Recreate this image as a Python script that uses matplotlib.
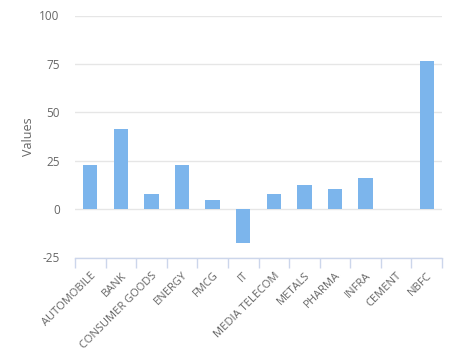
import numpy as np
import matplotlib
matplotlib.use('Agg')
import matplotlib.pyplot as plt
from matplotlib.ticker import FixedLocator

categories = ["AUTOMOBILE", "BANK", "CONSUMER GOODS", "ENERGY", "FMCG", "IT",
              "MEDIA TELECOM", "METALS", "PHARMA", "INFRA", "CEMENT", "NBFC"]
values = [23, 41.6, 7.9, 23, 4.8, -17.3, 8, 12.6, 10.5, 16.2, 0, 76.3]
y_ticks = [-25, 0, 25, 50, 75, 100]

plt.rcParams['font.family'] = ['Open Sans', 'DejaVu Sans']

fig = plt.figure(figsize=(4.61, 3.51), dpi=100)
ax = fig.add_axes([75 / 461, 1 - 257.5 / 351, 367 / 461, 242 / 351])

x = np.arange(len(categories))
ax.bar(x, values, width=0.47, color='#7cb5ec', zorder=3)

ax.set_xlim(-0.5, len(categories) - 0.5)
ax.set_ylim(-25, 100)
ax.set_yticks(y_ticks)
ax.set_yticklabels([str(t) for t in y_ticks])
ax.grid(axis='y', color='#e6e6e6', linewidth=1, zorder=0)
ax.set_axisbelow(True)

for side in ['top', 'right', 'left']:
    ax.spines[side].set_visible(False)
ax.spines['bottom'].set_color('#ccd6eb')
ax.spines['bottom'].set_linewidth(1)

ax.set_xticks(x)
ax.set_xticklabels(categories, rotation=45, ha='right', rotation_mode='anchor')
ax.xaxis.set_minor_locator(FixedLocator(np.arange(-0.5, len(categories), 1.0)))
ax.tick_params(axis='x', which='major', length=0, pad=9, labelsize=8, labelcolor='#666666')
ax.tick_params(axis='x', which='minor', length=7, color='#ccd6eb', width=1)
ax.tick_params(axis='y', length=0, pad=11, labelsize=8.5, labelcolor='#666666')

ax.set_ylabel('Values', color='#666666', fontsize=9, labelpad=3)

fig.savefig('out.png', dpi=100)
